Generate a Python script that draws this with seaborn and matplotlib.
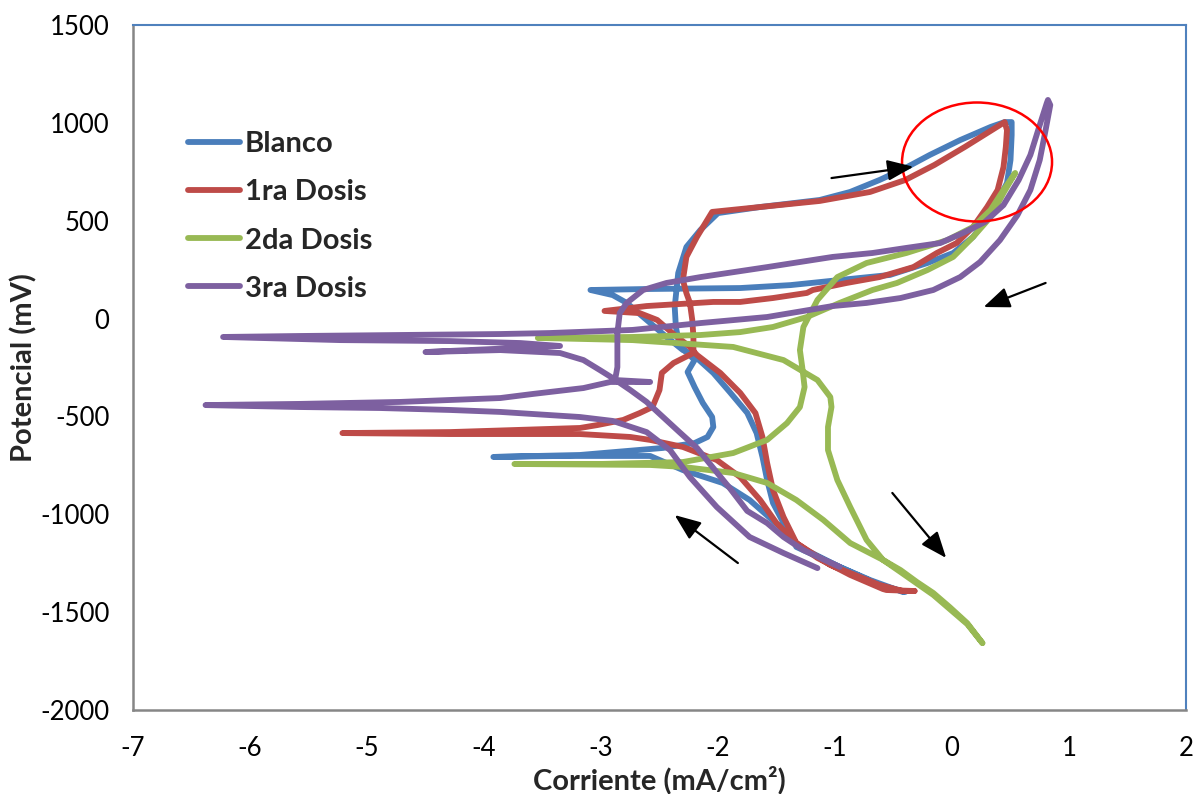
import numpy as np
import pandas as pd
import matplotlib
matplotlib.use("Agg")
import matplotlib.pyplot as plt
import seaborn as sns
from matplotlib.patches import Ellipse
from matplotlib.lines import Line2D

# ---------------- data (corriente, potencial) ----------------
series_names = ["Blanco", "1ra Dosis", "2da Dosis", "3ra Dosis"]
series_colors = ["#4A7EBB", "#BE4B48", "#98B954", "#7D60A0"]

blanco = [
    (-0.42, -1397), (-0.70, -1336), (-0.96, -1269), (-1.30, -1167), (-1.44, -1080),
    (-1.73, -927), (-1.96, -840), (-2.30, -774), (-2.58, -702), (-3.35, -702), (-3.92, -707),
    (-3.18, -697), (-2.47, -661), (-2.20, -636), (-2.09, -605), (-2.04, -554), (-2.05, -503),
    (-2.13, -431), (-2.20, -350), (-2.26, -273), (-2.20, -212), (-2.33, -135), (-2.36, -43),
    (-2.37, 59), (-2.34, 233), (-2.27, 366), (-2.15, 453), (-2.00, 539),
    (-1.64, 570), (-1.13, 606), (-0.87, 647), (-0.62, 708), (-0.40, 769), (-0.19, 836),
    (0.07, 912), (0.33, 979), (0.45, 1004), (0.51, 1004),
    (0.51, 938), (0.50, 810), (0.47, 693), (0.35, 555), (0.18, 417), (0.01, 335), (-0.21, 284),
    (-0.53, 223), (-0.96, 197), (-1.38, 171), (-1.81, 156), (-2.61, 151), (-3.09, 146),
    (-2.90, 120), (-2.78, 80), (-2.61, -7), (-2.44, -94), (-2.30, -161), (-2.21, -186),
    (-2.04, -278), (-1.90, -375), (-1.75, -482), (-1.67, -585), (-1.62, -707), (-1.58, -825),
    (-1.53, -942), (-1.44, -1045), (-1.33, -1167), (-0.96, -1269), (-0.62, -1361), (-0.40, -1397),
]

dosis1 = [
    (-0.32, -1392), (-0.56, -1387), (-0.59, -1382), (-0.87, -1310), (-1.15, -1223), (-1.33, -1147),
    (-1.50, -1045), (-1.64, -927), (-1.81, -810), (-2.01, -723), (-2.30, -656), (-2.58, -620),
    (-2.75, -605), (-3.18, -590), (-4.29, -590), (-5.21, -585),
    (-4.29, -580), (-3.18, -559), (-3.03, -544), (-2.81, -518), (-2.67, -483), (-2.56, -452),
    (-2.50, -365), (-2.48, -278), (-2.38, -227), (-2.21, -176),
    (-2.21, -94), (-2.22, -7), (-2.24, 80), (-2.27, 130), (-2.30, 197), (-2.27, 315),
    (-2.18, 417), (-2.05, 545),
    (-1.64, 570), (-1.13, 601), (-0.70, 647), (-0.40, 708), (-0.15, 785), (0.11, 877),
    (0.37, 974), (0.45, 1004),
    (0.47, 963), (0.46, 877), (0.44, 774), (0.39, 657), (0.30, 570), (0.18, 468), (0.04, 386),
    (-0.13, 335), (-0.33, 263), (-0.62, 212), (-0.90, 182), (-1.19, 146), (-1.24, 131),
    (-1.53, 105), (-1.81, 85), (-2.04, 85), (-2.61, 64), (-2.97, 39),
    (-2.67, 28), (-2.52, -7), (-2.39, -74), (-2.24, -145), (-2.18, -186), (-1.98, -278),
    (-1.81, -380), (-1.68, -483), (-1.62, -605), (-1.58, -738), (-1.53, -876), (-1.44, -1014),
    (-1.33, -1147), (-1.04, -1259), (-0.62, -1361), (-0.42, -1392), (-0.32, -1392),
]

dosis2 = [
    (0.26, -1658), (0.13, -1556), (-0.02, -1474), (-0.16, -1402), (-0.30, -1346), (-0.44, -1285),
    (-0.59, -1233),
    (-0.87, -1147), (-1.10, -1029), (-1.33, -927), (-1.58, -840), (-1.87, -789), (-2.30, -758),
    (-2.58, -748), (-3.74, -743),
    (-3.01, -743), (-2.30, -733), (-1.87, -687), (-1.58, -620), (-1.41, -534), (-1.30, -452),
    (-1.26, -350), (-1.28, -248), (-1.30, -161), (-1.27, -43), (-1.15, 95), (-0.98, 212),
    (-0.73, 284), (-0.39, 335), (-0.04, 401), (0.18, 468), (0.33, 555), (0.44, 657), (0.54, 744),
    (0.44, 642), (0.33, 519), (0.18, 417), (0.01, 315), (-0.21, 248), (-0.47, 182), (-0.68, 146),
    (-0.96, 80), (-1.24, 8), (-1.53, -43), (-1.81, -69), (-2.15, -84), (-2.73, -94), (-3.54, -99),
    (-2.73, -110), (-1.87, -145), (-1.44, -212), (-1.15, -314), (-1.04, -401), (-1.03, -452),
    (-1.06, -554), (-1.06, -672), (-0.98, -825), (-0.87, -963), (-0.73, -1131), (-0.59, -1233),
    (-0.44, -1295), (-0.16, -1412), (0.13, -1561), (0.26, -1658),
]

dosis3 = [
    (-1.15, -1275), (-1.44, -1198), (-1.73, -1116), (-2.01, -963), (-2.24, -810), (-2.41, -672),
    (-2.61, -580), (-2.90, -523), (-3.18, -503), (-3.86, -477), (-4.29, -467), (-4.89, -457),
    (-5.57, -452), (-6.38, -442),
    (-5.57, -436), (-4.72, -426), (-3.86, -406), (-3.58, -385), (-3.15, -355), (-2.92, -324),
    (-2.58, -324), (-2.88, -314),
    (-2.86, -248), (-2.86, -74), (-2.84, 28), (-2.78, 80), (-2.64, 146), (-2.44, 182),
    (-2.15, 212), (-1.58, 263), (-1.02, 315), (-0.68, 335), (-0.39, 361), (-0.10, 386),
    (0.11, 442), (0.28, 493), (0.44, 580), (0.57, 708), (0.67, 836), (0.75, 989), (0.81, 1101),
    (0.82, 1117),
    (0.84, 1091), (0.80, 963), (0.75, 810), (0.67, 657), (0.56, 529), (0.41, 401), (0.24, 289),
    (0.07, 212), (-0.16, 146), (-0.44, 105), (-0.73, 80), (-1.02, 64), (-1.58, 8), (-2.15, -23),
    (-2.73, -58), (-3.44, -74), (-3.86, -79), (-4.72, -84), (-5.57, -89), (-6.23, -94),
    (-5.23, -110), (-4.29, -115), (-3.69, -125), (-3.35, -140), (-4.50, -171), (-3.86, -161),
    (-3.35, -176), (-3.15, -212), (-3.01, -263), (-2.90, -304),
    (-2.75, -365), (-2.61, -426), (-2.47, -503), (-2.33, -580), (-2.18, -661), (-2.04, -764),
    (-1.90, -866), (-1.75, -983), (-1.58, -1045), (-1.44, -1116), (-1.27, -1183), (-0.96, -1269),
]

x_ticks = list(range(-7, 3))
y_ticks = list(range(-2000, 1501, 500))

# annotation arrows: (start, tip)
arrows = [
    ((-1.03, 718), (-0.33, 776)),
    ((0.80, 182), (0.27, 59)),
    ((-0.51, -891), (-0.05, -1223)),
    ((-1.83, -1249), (-2.37, -1004)),
]
ellipse_center = (0.214, 800)
ellipse_size = (1.282, 608)

# ---------------- build frame ----------------
frames = []
for name, pts in zip(series_names, [blanco, dosis1, dosis2, dosis3]):
    arr = np.array(pts, dtype=float)
    frames.append(pd.DataFrame({"Corriente": arr[:, 0], "Potencial": arr[:, 1],
                                "Serie": name, "orden": np.arange(len(arr))}))
df = pd.concat(frames, ignore_index=True)

sns.set_style("white")
plt.rcParams["font.family"] = ["Lato", "DejaVu Sans"]
plt.rcParams["axes.unicode_minus"] = False

fig = plt.figure(figsize=(11.98, 7.94), dpi=100)
ax = fig.add_axes([133 / 1198, 1 - 710 / 794, 1053 / 1198, 685 / 794])

LW = 4.2
sns.lineplot(data=df, x="Corriente", y="Potencial", hue="Serie", hue_order=series_names,
             palette=series_colors, sort=False, estimator=None, linewidth=LW,
             solid_capstyle="round", solid_joinstyle="round", legend=False, ax=ax)

ax.set_xlim(-7, 2)
ax.set_ylim(-2000, 1500)
ax.set_xticks(x_ticks)
ax.set_yticks(y_ticks)
ax.set_xticklabels([str(t) for t in x_ticks])
ax.set_yticklabels([str(t) for t in y_ticks])
ax.tick_params(axis="both", direction="out", length=7, width=1.5, color="#868686",
               labelsize=18.5, labelcolor="black")
ax.tick_params(axis="x", pad=12)
ax.tick_params(axis="y", pad=10)

for s in ["left", "bottom"]:
    ax.spines[s].set_color("#868686")
    ax.spines[s].set_linewidth(1.8)
for s in ["top", "right"]:
    ax.spines[s].set_color("#4F81BD")
    ax.spines[s].set_linewidth(1.5)
    ax.spines[s].set_visible(True)

ax.set_xlabel("Corriente (mA/cm²)", fontsize=21, fontweight="bold", labelpad=3)
ax.set_ylabel("Potencial (mV)", fontsize=21, fontweight="bold", labelpad=2)

ax.add_patch(Ellipse(ellipse_center, ellipse_size[0], ellipse_size[1], fill=False,
                     edgecolor="red", linewidth=1.8, zorder=6))

for start, tip in arrows:
    ax.annotate("", xy=tip, xytext=start,
                arrowprops=dict(arrowstyle="-|>,head_length=1.0,head_width=0.4",
                                color="black", lw=1.6, mutation_scale=16,
                                shrinkA=0, shrinkB=0), zorder=7)

handles = [Line2D([0], [0], color=c, lw=LW, solid_capstyle="round") for c in series_colors]
ax.legend(handles, series_names, loc="upper left", bbox_to_anchor=(0.052, 0.845),
          frameon=False, prop=dict(weight="bold", size=21), handlelength=1.8,
          handletextpad=0.15, labelspacing=0.76, borderpad=0, borderaxespad=0)

fig.savefig("out.png", dpi=100)
